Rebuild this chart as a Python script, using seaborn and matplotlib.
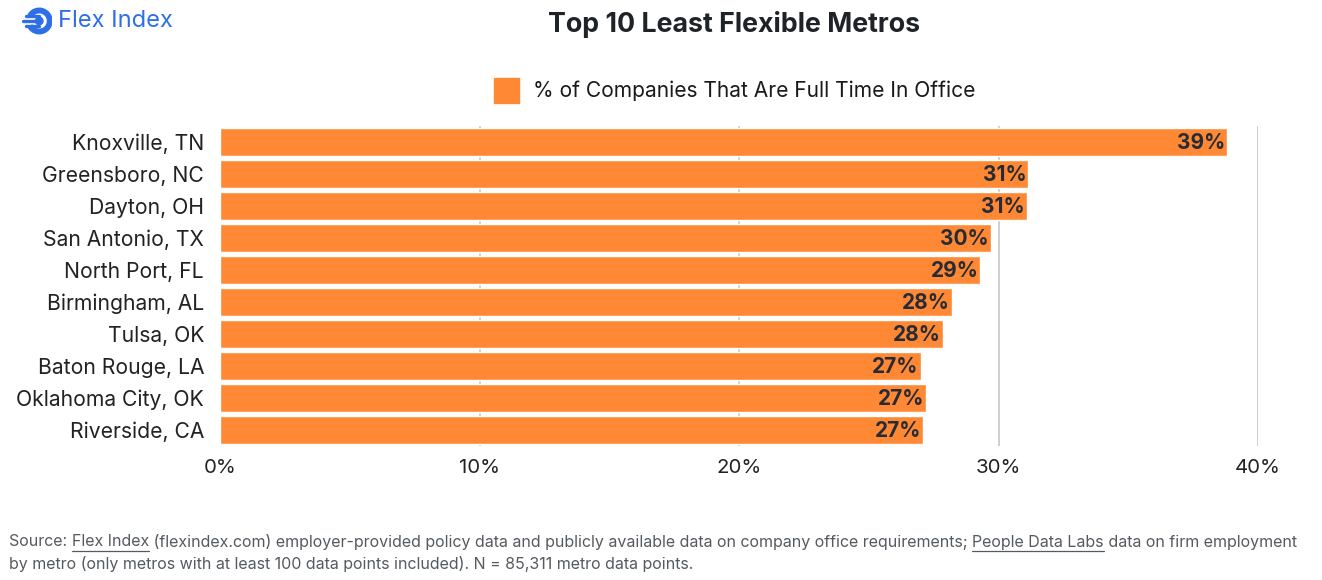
import matplotlib
matplotlib.use("Agg")
import matplotlib.pyplot as plt
import seaborn as sns
import pandas as pd
import numpy as np
from matplotlib.patches import Circle, Rectangle, Wedge

metros = ["Knoxville, TN", "Greensboro, NC", "Dayton, OH", "San Antonio, TX",
          "North Port, FL", "Birmingham, AL", "Tulsa, OK", "Baton Rouge, LA",
          "Oklahoma City, OK", "Riverside, CA"]
values = [38.8, 31.15, 31.1, 29.7, 29.3, 28.2, 27.85, 27.0, 27.2, 27.1]
labels = ["39%", "31%", "31%", "30%", "29%", "28%", "28%", "27%", "27%", "27%"]
xticks = [0, 10, 20, 30, 40]
xticklabels = ["0%", "10%", "20%", "30%", "40%"]
series_name = "% of Companies That Are Full Time In Office"

BAR = "#FE8834"
DARK = "#262B36"

sns.set_theme(style="white")
plt.rcParams['font.family'] = ['Inter', 'DejaVu Sans']

W, H = 1322, 580
fig = plt.figure(figsize=(W / 100, H / 100), dpi=100)
ax = fig.add_axes([220 / W, 1 - 446 / H, (1258 - 220) / W, 320 / H])

df = pd.DataFrame({"metro": metros, "value": values})
sns.barplot(data=df, x="value", y="metro", color=BAR, width=0.9, ax=ax,
            saturation=1, zorder=3)

ax.set_xlim(0, 40)
ax.set_ylim(9.5, -0.5)
ax.set_xticks(xticks)
ax.set_xticklabels(xticklabels, fontsize=14.7, color="#222222")
ax.tick_params(axis="y", labelsize=15.2, labelcolor="#222222", length=0, pad=11.5)
ax.tick_params(axis="x", length=0, pad=9.5)
ax.set_xlabel("")
ax.set_ylabel("")
for s in ax.spines.values():
    s.set_visible(False)
for xv in xticks[1:]:
    ax.axvline(xv, color="#CCCCCC", lw=1.3, zorder=1)

for i, (v, lab) in enumerate(zip(values, labels)):
    ax.text(v - 0.08, i + 0.03, lab, ha="right", va="center", fontsize=15,
            fontweight="bold", color=DARK, zorder=4)

# title
fig.text(734 / W, 1 - 24 / H, "Top 10 Least Flexible Metros", ha="center", va="center",
         fontsize=19.3, fontweight="bold", color="#1f2328")

# legend
fig.patches.append(Rectangle((494 / W, 1 - 103 / H), 25 / W, 25 / H,
                             transform=fig.transFigure, color=BAR, figure=fig))
fig.text(533 / W, 1 - 91 / H, series_name, ha="left", va="center", fontsize=15.1,
         color="#1a1a1a")

# logo
lax = fig.add_axes([22 / W, 1 - 36 / H, 30 / W, 30 / H])
lax.set_xlim(-1, 1)
lax.set_ylim(-1, 1)
lax.set_aspect("equal")
lax.axis("off")
LOGO = "#2E6FE8"
lax.add_patch(Wedge((0.15, 0), 0.85, -150, 150, width=0.3, color=LOGO))
for yy, x0 in [(0.35, -0.75), (0.0, -0.95), (-0.35, -0.75)]:
    lax.plot([x0, 0.1], [yy, yy], color=LOGO, lw=2.4, solid_capstyle="round")
lax.add_patch(Circle((0.15, 0), 0.25, color=LOGO))
fig.text(58 / W, 1 - 21 / H, "Flex Index", ha="left", va="center", fontsize=17,
         color=LOGO)

# footer with underlined segments
FOOT = "#555A60"
line1_parts = [("Source: ", False), ("Flex Index", True),
               (" (flexindex.com) employer-provided policy data and publicly available data on company office requirements; ", False),
               ("People Data Labs", True), (" data on firm employment", False)]
line2 = "by metro (only metros with at least 100 data points included). N = 85,311 metro data points."
fs_foot = 11.5
renderer = fig.canvas.get_renderer()
x = 9 / W
y1 = 1 - 542 / H
for txt, ul in line1_parts:
    fig.text(x, y1, txt, ha="left", va="center", fontsize=fs_foot, color=FOOT)
    tmp = fig.text(0, 0, txt.replace(" ", "\u00a0"), fontsize=fs_foot)
    wpx = tmp.get_window_extent(renderer=renderer).width
    tmp.remove()
    if ul:
        fig.add_artist(plt.Line2D([x, x + wpx / W], [1 - 551 / H, 1 - 551 / H],
                                  transform=fig.transFigure, color=FOOT, lw=0.9))
    x += wpx / W
fig.text(9 / W, 1 - 564 / H, line2, ha="left", va="center", fontsize=fs_foot, color=FOOT)

fig.savefig("out.png", dpi=100)
